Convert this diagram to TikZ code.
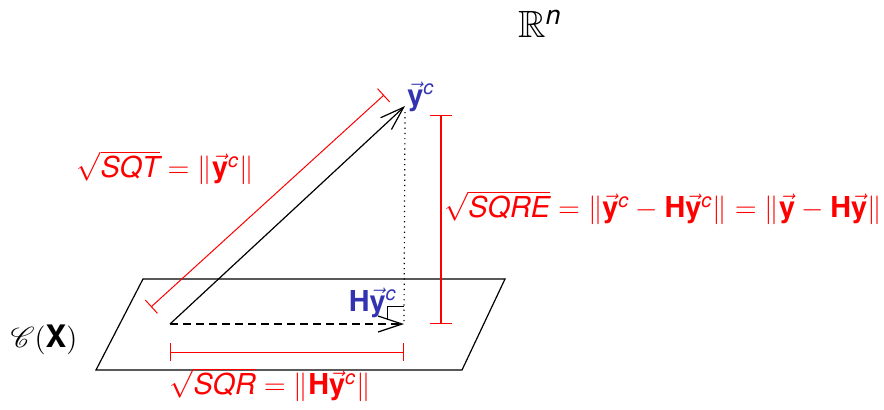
\documentclass[tikz,border=0pt]{standalone}
\usepackage{amsmath,amssymb}
\usepackage{mathrsfs}
\usepackage{fontspec}
\setmainfont{TeX Gyre Heros}
\usetikzlibrary{arrows.meta}
\definecolor{sblue}{RGB}{51,51,178}
\definecolor{mred}{RGB}{255,0,0}
\newcommand\vy{\vec{\text{\bfseries y}}}
\newcommand\vH{\text{\bfseries H}}
\newcommand\supc{{}^{\text{\itshape c}}}
\newcommand\itx[1]{\text{\itshape #1}}
\begin{document}
\begin{tikzpicture}[x=0.5pt,y=-0.5pt,
  lbl/.style={font=\fontsize{14.4}{17}\selectfont, inner sep=0pt},
  vec/.style={line width=0.6pt,-{Straight Barb[length=12pt,width=8pt]}},
  meas/.style={draw=mred,line width=0.5pt,{Bar[width=9pt]}-{Bar[width=9pt]}},
  measv/.style={draw=mred,line width=0.6pt,{Bar[width=11pt]}-{Bar[width=11pt]}},
  plane/.style={line width=0.6pt}]
\useasboundingbox (0,0) rectangle (884,409);
% plane
\coordinate (A) at (143,279);
\coordinate (B) at (505,279);
\coordinate (C) at (462,370);
\coordinate (D) at (96,370);
\draw[plane] (A) -- (B) -- (C) -- (D) -- cycle;
% vectors
\coordinate (O) at (170,324);
\coordinate (Y) at (405,106);
\coordinate (P) at (404,324);
\coordinate (Yd) at (405,112);
\draw[vec] (O) -- (Y);
\draw[vec,dashed,dash pattern=on 4pt off 2.5pt] (O) -- (P);
\draw[dotted,line width=0.6pt] (Yd) -- (P);
\coordinate (R1) at (404,306);
\coordinate (R2) at (387,306);
\coordinate (R3) at (387,320);
\draw[line width=0.5pt] (R1) -- (R2) -- (R3);
% measures
\coordinate (T1) at (151,307);
\coordinate (T2) at (384,95);
\draw[meas] (T1) -- (T2);
\coordinate (V1) at (441,115);
\coordinate (V2) at (441,324);
\draw[measv] (V1) -- (V2);
\coordinate (H1) at (170,352);
\coordinate (H2) at (404,352);
\draw[meas] (H1) -- (H2);
% labels
\node[lbl,font=\fontsize{19}{22}\selectfont] (Rn) at (540,24) {$\mathbb{R}^{\itx{n}}$};
\node[lbl,text=sblue,anchor=south west] (yc) at (407,112) {$\vy\supc$};
\node[lbl,text=sblue,anchor=south east] (Hyc) at (397,318) {$\vH\vy\supc$};
\node[lbl,text=mred] (sqt) at (165,168) {$\sqrt{\itx{SQT}}=\|\vy\supc\|$};
\node[lbl,text=mred,anchor=east] (sqre) at (882,208) {$\sqrt{\itx{SQRE}}=\|\vy\supc-\vH\vy\supc\|=\|\vy-\vH\vy\|$};
\node[lbl,text=mred] (sqr) at (270,385) {$\sqrt{\itx{SQR}}=\|\vH\vy\supc\|$};
\node[lbl,font=\fontsize{15.5}{18}\selectfont] (CX) at (44,340) {$\mathscr{C}(\text{\bfseries X})$};
\end{tikzpicture}
\end{document}
